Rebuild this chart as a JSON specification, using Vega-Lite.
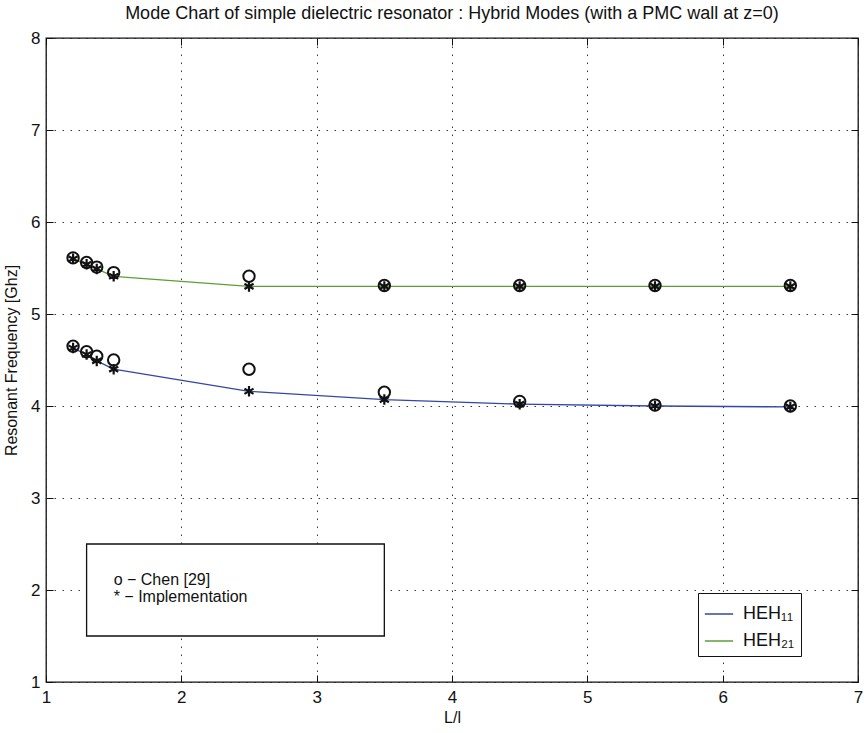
{
  "$schema": "https://vega.github.io/schema/vega-lite/v6.json",
  "width": 812,
  "height": 644,
  "autosize": {"type": "none"},
  "padding": {"left": 46, "top": 38, "right": 6, "bottom": 51},
  "background": "white",
  "title": {
    "text": "Mode Chart of simple dielectric resonator : Hybrid Modes (with a PMC wall at z=0)",
    "font": "Liberation Sans",
    "fontSize": 18,
    "fontWeight": "normal",
    "color": "#111",
    "offset": 6
  },
  "config": {
    "view": {"stroke": "#111", "strokeWidth": 1.3},
    "font": "Liberation Sans",
    "axis": {
      "labelFont": "Liberation Sans",
      "labelFontSize": 17,
      "labelColor": "#111",
      "titleFont": "Liberation Sans",
      "titleFontSize": 16,
      "titleFontWeight": "normal",
      "titleColor": "#111",
      "domain": false,
      "tickColor": "#111",
      "tickSize": -7,
      "gridColor": "#222",
      "gridDash": [1.5, 6.5],
      "gridOpacity": 0.9
    }
  },
  "datasets": {
    "modes": [
      {"ratio": 1.2, "freq": 4.63, "mode": "HEH₁₁", "source": "Implementation"},
      {"ratio": 1.3, "freq": 4.56, "mode": "HEH₁₁", "source": "Implementation"},
      {"ratio": 1.375, "freq": 4.49, "mode": "HEH₁₁", "source": "Implementation"},
      {"ratio": 1.5, "freq": 4.4, "mode": "HEH₁₁", "source": "Implementation"},
      {"ratio": 2.5, "freq": 4.16, "mode": "HEH₁₁", "source": "Implementation"},
      {"ratio": 3.5, "freq": 4.07, "mode": "HEH₁₁", "source": "Implementation"},
      {"ratio": 4.5, "freq": 4.02, "mode": "HEH₁₁", "source": "Implementation"},
      {"ratio": 5.5, "freq": 4.0, "mode": "HEH₁₁", "source": "Implementation"},
      {"ratio": 6.5, "freq": 3.99, "mode": "HEH₁₁", "source": "Implementation"},
      {"ratio": 1.2, "freq": 5.6, "mode": "HEH₂₁", "source": "Implementation"},
      {"ratio": 1.3, "freq": 5.54, "mode": "HEH₂₁", "source": "Implementation"},
      {"ratio": 1.375, "freq": 5.49, "mode": "HEH₂₁", "source": "Implementation"},
      {"ratio": 1.5, "freq": 5.41, "mode": "HEH₂₁", "source": "Implementation"},
      {"ratio": 2.5, "freq": 5.3, "mode": "HEH₂₁", "source": "Implementation"},
      {"ratio": 3.5, "freq": 5.3, "mode": "HEH₂₁", "source": "Implementation"},
      {"ratio": 4.5, "freq": 5.3, "mode": "HEH₂₁", "source": "Implementation"},
      {"ratio": 5.5, "freq": 5.3, "mode": "HEH₂₁", "source": "Implementation"},
      {"ratio": 6.5, "freq": 5.3, "mode": "HEH₂₁", "source": "Implementation"},
      {"ratio": 1.2, "freq": 4.65, "mode": "HEH₁₁", "source": "Chen [29]"},
      {"ratio": 1.3, "freq": 4.59, "mode": "HEH₁₁", "source": "Chen [29]"},
      {"ratio": 1.375, "freq": 4.54, "mode": "HEH₁₁", "source": "Chen [29]"},
      {"ratio": 1.5, "freq": 4.5, "mode": "HEH₁₁", "source": "Chen [29]"},
      {"ratio": 2.5, "freq": 4.4, "mode": "HEH₁₁", "source": "Chen [29]"},
      {"ratio": 3.5, "freq": 4.15, "mode": "HEH₁₁", "source": "Chen [29]"},
      {"ratio": 4.5, "freq": 4.05, "mode": "HEH₁₁", "source": "Chen [29]"},
      {"ratio": 5.5, "freq": 4.01, "mode": "HEH₁₁", "source": "Chen [29]"},
      {"ratio": 6.5, "freq": 4.0, "mode": "HEH₁₁", "source": "Chen [29]"},
      {"ratio": 1.2, "freq": 5.61, "mode": "HEH₂₁", "source": "Chen [29]"},
      {"ratio": 1.3, "freq": 5.56, "mode": "HEH₂₁", "source": "Chen [29]"},
      {"ratio": 1.375, "freq": 5.51, "mode": "HEH₂₁", "source": "Chen [29]"},
      {"ratio": 1.5, "freq": 5.45, "mode": "HEH₂₁", "source": "Chen [29]"},
      {"ratio": 2.5, "freq": 5.41, "mode": "HEH₂₁", "source": "Chen [29]"},
      {"ratio": 3.5, "freq": 5.31, "mode": "HEH₂₁", "source": "Chen [29]"},
      {"ratio": 4.5, "freq": 5.31, "mode": "HEH₂₁", "source": "Chen [29]"},
      {"ratio": 5.5, "freq": 5.31, "mode": "HEH₂₁", "source": "Chen [29]"},
      {"ratio": 6.5, "freq": 5.31, "mode": "HEH₂₁", "source": "Chen [29]"}
    ],
    "note": [{}]
  },
  "data": {"name": "modes"},
  "resolve": {"axis": {"x": "independent", "y": "independent"}},
  "layer": [
    {
      "mark": {"type": "rule", "opacity": 0},
      "encoding": {
        "x": {
          "field": "ratio", "type": "quantitative",
          "scale": {"domain": [1, 7], "nice": false},
          "axis": {"orient": "top", "values": [1, 2, 3, 4, 5, 6, 7], "labels": false, "grid": false, "title": null}
        },
        "y": {
          "field": "freq", "type": "quantitative",
          "scale": {"domain": [1, 8], "nice": false},
          "axis": {"orient": "right", "values": [1, 2, 3, 4, 5, 6, 7, 8], "labels": false, "grid": false, "title": null}
        }
      }
    },
    {
      "data": {"name": "note"},
      "mark": {"type": "rect", "fill": "white", "stroke": "#111", "strokeWidth": 1.3},
      "encoding": {
        "x": {"datum": 1.3, "type": "quantitative", "axis": {"values": [1, 2, 3, 4, 5, 6, 7], "grid": true, "title": "L/l", "labelPadding": 14, "titleY": 27, "labelFlush": false}},
        "x2": {"datum": 3.5},
        "y": {"datum": 1.5, "type": "quantitative", "axis": {"values": [1, 2, 3, 4, 5, 6, 7, 8], "grid": true, "title": "Resonant Frequency [Ghz]", "labelPadding": 13, "titleX": -27}},
        "y2": {"datum": 2.5}
      }
    },
    {
      "data": {"name": "note"},
      "mark": {"type": "text", "align": "left", "baseline": "middle", "fontSize": 16, "color": "#111", "font": "Liberation Sans"},
      "encoding": {
        "x": {"datum": 1.5, "type": "quantitative", "axis": null},
        "y": {"datum": 2.11, "type": "quantitative", "axis": null},
        "text": {"value": "o − Chen [29]"}
      }
    },
    {
      "data": {"name": "note"},
      "mark": {"type": "text", "align": "left", "baseline": "middle", "fontSize": 16, "color": "#111", "font": "Liberation Sans"},
      "encoding": {
        "x": {"datum": 1.5, "type": "quantitative", "axis": null},
        "y": {"datum": 1.92, "type": "quantitative", "axis": null},
        "text": {"value": "* − Implementation"}
      }
    },
    {
      "transform": [{"filter": "datum.source === 'Implementation'"}],
      "mark": {"type": "line", "interpolate": "linear", "strokeWidth": 1.3},
      "encoding": {
        "x": {"field": "ratio", "type": "quantitative", "axis": null},
        "y": {"field": "freq", "type": "quantitative", "axis": null},
        "color": {
          "field": "mode", "type": "nominal",
          "scale": {"domain": ["HEH₁₁", "HEH₂₁"], "range": ["#3546a6", "#5e9e38"]},
          "legend": {
            "title": null,
            "orient": "none",
            "legendX": 652,
            "legendY": 555,
            "symbolType": "stroke",
            "symbolSize": 800,
            "symbolStrokeWidth": 1.5,
            "labelFontSize": 18,
            "labelFont": "Liberation Sans",
            "labelColor": "#111",
            "strokeColor": "#111",
            "fillColor": "white",
            "padding": 6,
            "rowPadding": 3,
            "labelOffset": 9
          }
        }
      }
    },
    {
      "transform": [{"filter": "datum.source === 'Chen [29]'"}],
      "mark": {"type": "point", "shape": "circle", "filled": false, "stroke": "#111", "strokeWidth": 2, "size": 130, "opacity": 1},
      "encoding": {
        "x": {"field": "ratio", "type": "quantitative", "axis": null},
        "y": {"field": "freq", "type": "quantitative", "axis": null}
      }
    },
    {
      "transform": [{"filter": "datum.source === 'Implementation'"}],
      "mark": {
        "type": "point",
        "shape": "M0,-1L0,1M-0.87,-0.5L0.87,0.5M-0.87,0.5L0.87,-0.5",
        "filled": false, "stroke": "#111", "strokeWidth": 2.2, "size": 110, "opacity": 1
      },
      "encoding": {
        "x": {"field": "ratio", "type": "quantitative", "axis": null},
        "y": {"field": "freq", "type": "quantitative", "axis": null}
      }
    }
  ]
}
